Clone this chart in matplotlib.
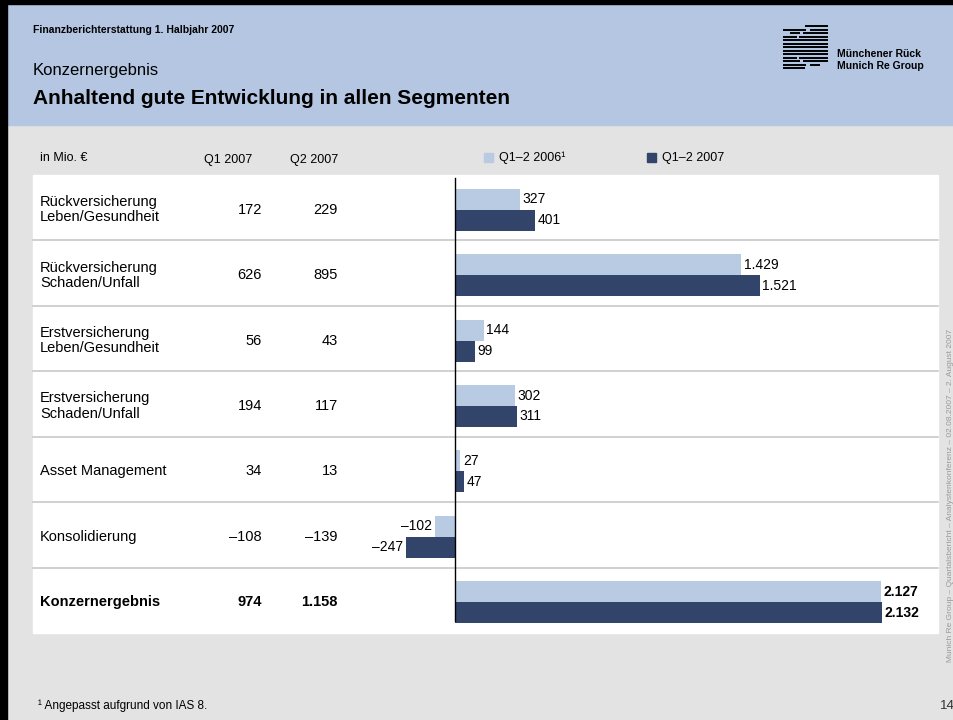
import matplotlib
matplotlib.use("Agg")
import matplotlib.pyplot as plt
from matplotlib.patches import Rectangle

plt.rcParams['font.family'] = ['Liberation Sans', 'DejaVu Sans']

# ---- data ----
categories = ["Rückversicherung\nLeben/Gesundheit", "Rückversicherung\nSchaden/Unfall",
              "Erstversicherung\nLeben/Gesundheit", "Erstversicherung\nSchaden/Unfall",
              "Asset Management", "Konsolidierung", "Konzernergebnis"]
q1_2007 = ["172", "626", "56", "194", "34", "–108", "974"]
q2_2007 = ["229", "895", "43", "117", "13", "–139", "1.158"]
h1_2006 = [327, 1429, 144, 302, 27, -102, 2127]
h1_2007 = [401, 1521, 99, 311, 47, -247, 2132]
col_headers = ["Q1 2007", "Q2 2007"]
legend_labels = ["Q1–2 2006¹", "Q1–2 2007"]

LIGHT = "#B9CAE3"
DARK = "#33446A"
HEAD = "#B4C6E1"
GRAY = "#E3E3E3"

def fmt(v):
    s = f"{abs(v):,}".replace(",", ".")
    return ("–" + s) if v < 0 else s

W, H = 954, 720
fig = plt.figure(figsize=(W / 100, H / 100), dpi=100)
bg = fig.add_axes([0, 0, 1, 1])
bg.set_xlim(0, W)
bg.set_ylim(H, 0)
bg.axis("off")

# backgrounds
bg.add_patch(Rectangle((0, 0), W, H, color=GRAY, zorder=0))
bg.add_patch(Rectangle((0, 0), W, 125, color=HEAD, zorder=1))
bg.add_patch(Rectangle((0, 0), W, 4, color="black", zorder=5))
bg.add_patch(Rectangle((0, 0), 7, H, color="black", zorder=5))

# header texts
bg.text(33, 30, "Finanzberichterstattung 1. Halbjahr 2007", fontsize=7.5, fontweight="bold", va="center", zorder=3)
bg.text(33, 70, "Konzernergebnis", fontsize=12, va="center", zorder=3)
bg.text(33, 98, "Anhaltend gute Entwicklung in allen Segmenten", fontsize=15, fontweight="bold", va="center", zorder=3)

# logo (stylised stripes)
ly = [26, 29.5, 33, 36.5, 40, 43.5, 47, 50.5, 54, 57.5, 61, 64.5, 68]
lx0 = [805, 783, 790, 783, 783, 783, 783, 783, 783, 783, 783, 783, 783]
lx1 = [828, 828, 828, 828, 828, 828, 828, 828, 828, 828, 828, 820, 805]
for x0, x1, y in zip(lx0, lx1, ly):
    bg.plot([x0, x1], [y, y], color="black", lw=1.4, zorder=3, solid_capstyle="butt")
# central lens (gaps in stripes)
for y, g0, g1 in [(29.5, 806, 810), (33, 800, 803), (36.5, 797, 799), (57.5, 797, 799),
                  (61, 800, 803), (64.5, 806, 810)]:
    bg.plot([g0, g1], [y, y], color=HEAD, lw=1.6, zorder=4, solid_capstyle="butt")
bg.text(837, 54, "Münchener Rück", fontsize=7.5, fontweight="bold", va="center", zorder=3)
bg.text(837, 66, "Munich Re Group", fontsize=7.5, fontweight="bold", va="center", zorder=3)

# table panel
TX0, TX1, TY0, TY1 = 33, 938, 175, 633
bg.add_patch(Rectangle((TX0, TY0), TX1 - TX0, TY1 - TY0, color="white", zorder=1))
n = len(categories)
rowh = (TY1 - TY0) / n
for i in range(1, n):
    y = TY0 + rowh * i
    bg.plot([TX0, TX1], [y, y], color="#C8C8C8", lw=1.2, zorder=2)

# column headers
bg.text(40, 158, "in Mio. €", fontsize=9, va="center", zorder=3)
bg.text(228, 160, col_headers[0], fontsize=9, ha="center", va="center", zorder=3)
bg.text(314, 160, col_headers[1], fontsize=9, ha="center", va="center", zorder=3)

# legend
bg.add_patch(Rectangle((484, 153), 9, 9, color=LIGHT, zorder=3))
bg.text(499, 158, legend_labels[0], fontsize=9, va="center", zorder=3)
bg.add_patch(Rectangle((647, 153), 9, 9, color=DARK, zorder=3))
bg.text(662, 158, legend_labels[1], fontsize=9, va="center", zorder=3)

# table rows
for i, cat in enumerate(categories):
    yc = TY0 + rowh * (i + 0.5) + 2
    w = "bold" if i == n - 1 else "normal"
    bg.text(40, yc, cat, fontsize=10.5, va="center", fontweight=w, zorder=3, linespacing=1.1)
    bg.text(262, yc, q1_2007[i], fontsize=10.5, ha="right", va="center", fontweight=w, zorder=3)
    bg.text(338, yc, q2_2007[i], fontsize=10.5, ha="right", va="center", fontweight=w, zorder=3)

# footnote, page, side text
bg.text(38, 706, "¹ Angepasst aufgrund von IAS 8.", fontsize=8.5, va="center", zorder=3)
bg.text(940, 706, "14", fontsize=9.5, va="center", zorder=3, color="#333333")
bg.text(951, 495, "Munich Re Group – Quartalsbericht – Analystenkonferenz – 02.08.2007 – 2. August 2007",
        fontsize=6, rotation=90, va="center", ha="center", color="#9A9A9A", zorder=3)

# bar axes
scale = 0.2003  # px per unit
zero_px = 455
xl = -(zero_px - TX0) / scale
xr = (TX1 - zero_px) / scale
ax = fig.add_axes([TX0 / W, 1 - TY1 / H, (TX1 - TX0) / W, (TY1 - TY0) / H])
ax.set_xlim(xl, xr)
ax.set_ylim(n - 0.5, -0.5)
ax.axis("off")
ax.patch.set_alpha(0)

bh = 21 / rowh
ys = [i + 2 / rowh for i in range(n)]
ax.barh([y - bh / 2 for y in ys], h1_2006, height=bh, color=LIGHT, zorder=2)
ax.barh([y + bh / 2 for y in ys], h1_2007, height=bh, color=DARK, zorder=2)
ax.plot([0, 0], [-0.45, 6.32], color="black", lw=1, zorder=3)

off = 12
for i, y in enumerate(ys):
    w = "bold" if i == n - 1 else "normal"
    for v, yy in ((h1_2006[i], y - bh / 2), (h1_2007[i], y + bh / 2)):
        if v >= 0:
            ax.text(v + off, yy, fmt(v), fontsize=10, va="center", ha="left", fontweight=w, zorder=4)
        else:
            ax.text(v - off, yy, fmt(v), fontsize=10, va="center", ha="right", fontweight=w, zorder=4)

fig.savefig("out.png", dpi=100)
